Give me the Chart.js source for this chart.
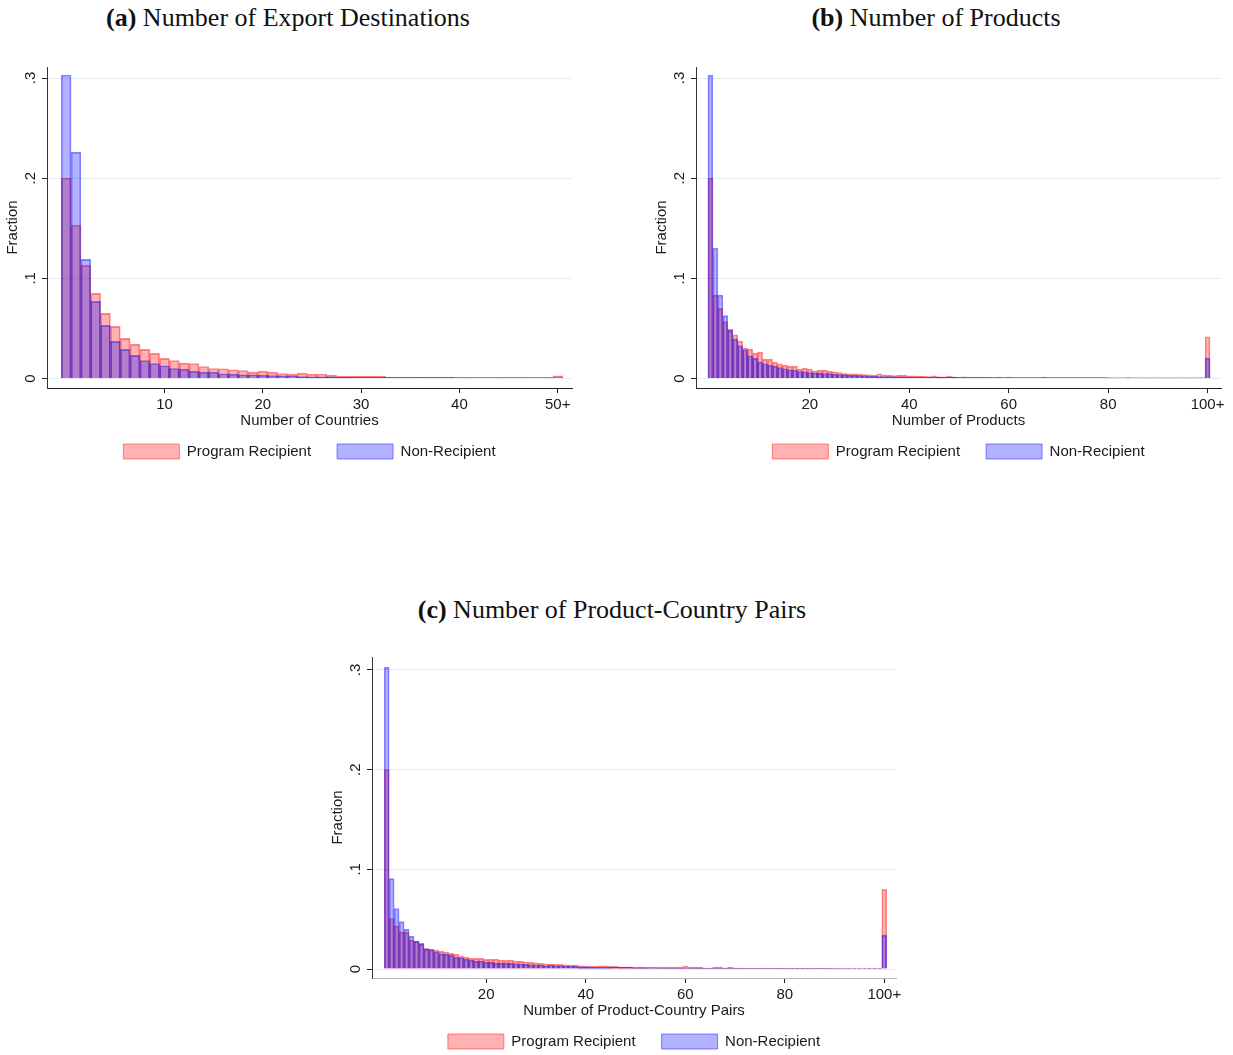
<!DOCTYPE html>
<html>
<head>
<meta charset="utf-8">
<script src="https://cdn.jsdelivr.net/npm/chart.js@4.4.1/dist/chart.umd.min.js"></script>
<style>
    html, body { margin: 0; padding: 0; background: #fff; overflow: hidden; }
    body { width: 1233px; height: 1055px; position: relative; }
    canvas { position: absolute; }
    .titulo {
        position: absolute;
        font-family: "Liberation Serif", "Times New Roman", serif;
        font-size: 26px;
        line-height: 30px;
        color: #111;
        white-space: nowrap;
        transform: translateX(-50%);
    }
</style>
</head>
<body>
<div class="titulo" style="left:288px; top:3px"><b>(a)</b> Number of Export Destinations</div>
<div class="titulo" style="left:936px; top:3px"><b>(b)</b> Number of Products</div>
<div class="titulo" style="left:612px; top:595px"><b>(c)</b> Number of Product-Country Pairs</div>

<canvas id="graficaDestinos" width="600" height="420" style="left:0px; top:50px"></canvas>
<canvas id="graficaProductos" width="584" height="420" style="left:649px; top:50px"></canvas>
<canvas id="graficaPares" width="600" height="420" style="left:325px; top:640px"></canvas>

<script>
// ---- data (fractions per bin) ----
const seriesNames = ['Program Recipient', 'Non-Recipient'];

const yTicks = [0, 0.1, 0.2, 0.3];
const yTickLabels = ['0', '.1', '.2', '.3'];

// (a) number of export destinations, bins 0..50 (last bin is 50+)
const destBins = [];
for (let i = 0; i <= 50; i++) destBins.push(i);
const destTicks = [10, 20, 30, 40, 50];
const destTickLabels = ['10', '20', '30', '40', '50+'];
const destRecipient = [
    0.200, 0.153, 0.113, 0.085, 0.065, 0.052, 0.040, 0.034, 0.029, 0.025,
    0.020, 0.018, 0.0153, 0.015, 0.012, 0.010, 0.0097, 0.0087, 0.008, 0.0063,
    0.0073, 0.0063, 0.005, 0.0043, 0.0053, 0.0043, 0.0045, 0.0033, 0.0023, 0.0023,
    0.0023, 0.0023, 0.0023, 0.0013, 0.0013, 0.0013, 0.0013, 0.0013, 0.0013, 0.0013,
    0.001, 0.001, 0.001, 0.001, 0.001, 0.001, 0.001, 0.001, 0.001, 0.001,
    0.0027
];
const destNonRecipient = [
    0.303, 0.226, 0.119, 0.077, 0.053, 0.037, 0.029, 0.023, 0.018, 0.015,
    0.0127, 0.010, 0.0093, 0.0073, 0.0063, 0.0063, 0.0047, 0.0043, 0.0037, 0.0037,
    0.0033, 0.003, 0.0027, 0.0027, 0.002, 0.0017, 0.0017, 0.0017, 0.0015, 0.0015,
    0.0013, 0.0013, 0.0012, 0.001, 0.001, 0.001, 0.001, 0.001, 0.001, 0.001,
    0.0008, 0.0008, 0.0008, 0.0008, 0.0008, 0.0008, 0.0008, 0.0008, 0.0008, 0.0008,
    0.001
];

// (b) number of products, bins 0..100 (last bin is 100+)
const prodBins = [];
for (let i = 0; i <= 100; i++) prodBins.push(i);
const prodTicks = [20, 40, 60, 80, 100];
const prodTickLabels = ['20', '40', '60', '80', '100+'];
const prodRecipient = [
    0.200, 0.0833, 0.070, 0.0567, 0.0493, 0.0437, 0.0373, 0.0303, 0.0293, 0.0253,
    0.0263, 0.0193, 0.0193, 0.0163, 0.0147, 0.0133, 0.0123, 0.0123, 0.0093, 0.0103,
    0.0093, 0.0077, 0.0083, 0.0083, 0.0073, 0.0067, 0.006, 0.005, 0.0047, 0.0047,
    0.0043, 0.004, 0.0037, 0.0033, 0.0047, 0.0037, 0.0033, 0.003, 0.0033, 0.0033,
    0.0027, 0.0027, 0.0023, 0.0023, 0.002, 0.0027, 0.0017, 0.0017, 0.0023, 0.0017,
    0.0013, 0.0017, 0.0013, 0.0013, 0.0013, 0.0013, 0.0013, 0.001, 0.0013, 0.001,
    0.0013, 0.001, 0.001, 0.001, 0.001, 0.001, 0.001, 0.0013, 0.001, 0.001,
    0.0008, 0.0008, 0.001, 0.0008, 0.0008, 0.0008, 0.0008, 0.0008, 0.0008, 0.0008,
    0.0008, 0.0007, 0.0007, 0.0007, 0.0008, 0.0007, 0.0007, 0.0007, 0.0007, 0.0007,
    0.0007, 0.0007, 0.0007, 0.0007, 0.0007, 0.0007, 0.0007, 0.0007, 0.0007, 0.0007,
    0.0417
];
const prodNonRecipient = [
    0.303, 0.130, 0.0833, 0.0627, 0.048, 0.0393, 0.0327, 0.0287, 0.0227, 0.020,
    0.0163, 0.0147, 0.0133, 0.0123, 0.011, 0.0097, 0.0087, 0.0083, 0.007, 0.0067,
    0.006, 0.0057, 0.0053, 0.005, 0.005, 0.0043, 0.004, 0.004, 0.0033, 0.0033,
    0.003, 0.003, 0.0023, 0.0023, 0.002, 0.002, 0.002, 0.0017, 0.0017, 0.0017,
    0.0015, 0.0015, 0.0013, 0.0013, 0.0013, 0.0013, 0.0013, 0.0012, 0.0012, 0.0012,
    0.001, 0.001, 0.001, 0.001, 0.001, 0.001, 0.001, 0.001, 0.001, 0.001,
    0.001, 0.001, 0.0009, 0.0009, 0.0009, 0.0009, 0.0009, 0.0009, 0.0008, 0.0008,
    0.0008, 0.0008, 0.0008, 0.0008, 0.0008, 0.0008, 0.0008, 0.0008, 0.0008, 0.0008,
    0.0007, 0.0007, 0.0007, 0.0007, 0.0007, 0.0007, 0.0007, 0.0007, 0.0007, 0.0007,
    0.0007, 0.0007, 0.0007, 0.0007, 0.0007, 0.0007, 0.0007, 0.0007, 0.0007, 0.0007,
    0.0203
];

// (c) number of product-country pairs, bins 0..100 (last bin is 100+)
const pairBins = [];
for (let i = 0; i <= 100; i++) pairBins.push(i);
const pairTicks = [20, 40, 60, 80, 100];
const pairTickLabels = ['20', '40', '60', '80', '100+'];
const pairRecipient = [
    0.200, 0.0507, 0.0433, 0.037, 0.0367, 0.029, 0.028, 0.0247, 0.0207, 0.0193,
    0.019, 0.0177, 0.017, 0.0157, 0.0147, 0.013, 0.012, 0.0107, 0.0107, 0.0107,
    0.0097, 0.0097, 0.010, 0.009, 0.0087, 0.009, 0.008, 0.0077, 0.0073, 0.0067,
    0.0063, 0.0057, 0.0053, 0.005, 0.0047, 0.0047, 0.0043, 0.004, 0.004, 0.0033,
    0.003, 0.0027, 0.0027, 0.0033, 0.0033, 0.0027, 0.0027, 0.0023, 0.0023, 0.0023,
    0.002, 0.0023, 0.002, 0.0017, 0.0017, 0.002, 0.002, 0.002, 0.002, 0.002,
    0.003, 0.002, 0.002, 0.002, 0.001, 0.001, 0.002, 0.002, 0.001, 0.002,
    0.0013, 0.001, 0.001, 0.001, 0.001, 0.001, 0.001, 0.001, 0.001, 0.001,
    0.0008, 0.0008, 0.0008, 0.0008, 0.0008, 0.0008, 0.0008, 0.0008, 0.0008, 0.0008,
    0.0008, 0.0008, 0.0008, 0.0007, 0.0007, 0.0007, 0.0007, 0.0007, 0.0007, 0.0007,
    0.080
];
const pairNonRecipient = [
    0.3027, 0.0907, 0.0607, 0.0477, 0.0397, 0.0327, 0.0277, 0.0257, 0.020, 0.020,
    0.0173, 0.0153, 0.0147, 0.014, 0.0117, 0.0113, 0.010, 0.0087, 0.008, 0.008,
    0.007, 0.0067, 0.006, 0.006, 0.006, 0.0057, 0.0053, 0.005, 0.0047, 0.0043,
    0.0043, 0.004, 0.0033, 0.004, 0.0033, 0.0033, 0.003, 0.003, 0.0027, 0.0023,
    0.0023, 0.002, 0.002, 0.002, 0.002, 0.002, 0.0017, 0.0017, 0.0017, 0.0017,
    0.0013, 0.0013, 0.0013, 0.0013, 0.0013, 0.001, 0.001, 0.001, 0.001, 0.001,
    0.001, 0.001, 0.001, 0.001, 0.001, 0.001, 0.001, 0.001, 0.001, 0.001,
    0.0008, 0.0008, 0.0008, 0.0008, 0.0008, 0.0008, 0.0008, 0.0008, 0.0008, 0.0008,
    0.0008, 0.0008, 0.0008, 0.0008, 0.0008, 0.0008, 0.0008, 0.0008, 0.0008, 0.0008,
    0.0007, 0.0007, 0.0007, 0.0007, 0.0007, 0.0007, 0.0007, 0.0007, 0.0007, 0.0007,
    0.034
];

// ---- styling ----
const fuente = "'Liberation Sans', Arial, Helvetica, sans-serif";
const colorTexto = '#1a1a1a';
Chart.defaults.font.family = fuente;
Chart.defaults.font.size = 15;
Chart.defaults.color = colorTexto;

const crearPanel = (canvasId, p) => {
    const canva = document.getElementById(canvasId).getContext('2d');
    const puntos = (valores) => p.bins.map((b, i) => ({x: b, y: valores[i]}));
    return new Chart(canva, {
        type: 'bar',
        data: {
            datasets: [{
                label: seriesNames[0],
                data: puntos(p.recipient),
                backgroundColor: 'rgba(255, 0, 0, 0.3)',
                borderColor: 'rgba(255, 0, 0, 0.45)',
                borderWidth: 1,
                grouped: false,
                barPercentage: 1,
                categoryPercentage: 1,
                order: 1
            }, {
                label: seriesNames[1],
                data: puntos(p.nonRecipient),
                backgroundColor: 'rgba(0, 0, 255, 0.3)',
                borderColor: 'rgba(0, 0, 255, 0.45)',
                borderWidth: 1,
                grouped: false,
                barPercentage: 1,
                categoryPercentage: 1,
                order: 0   // drawn on top of the recipient bars
            }]
        },
        options: {
            responsive: false,
            animation: false,
            layout: { padding: p.padding },
            plugins: {
                tooltip: { enabled: false },
                legend: {
                    position: 'bottom',
                    fullSize: false,
                    labels: {
                        boxWidth: 56,
                        boxHeight: 15,
                        padding: 26,
                        color: colorTexto,
                        font: { size: 15 },
                        sort: (a, b) => a.datasetIndex - b.datasetIndex
                    }
                }
            },
            scales: {
                x: {
                    type: 'linear',
                    min: p.xMin,
                    max: p.xMax,
                    offset: false,
                    afterBuildTicks: (s) => { s.ticks = p.xTicks.map(v => ({value: v})); },
                    afterFit: (s) => { s.height = 30; },
                    ticks: {
                        autoSkip: false,
                        maxRotation: 0,
                        padding: 3,
                        color: colorTexto,
                        callback: (v, i) => p.xTickLabels[i]
                    },
                    grid: { offset: false, drawOnChartArea: false, tickLength: 5, tickColor: '#222' },
                    border: { color: p.xAxisColor, width: 1 },
                    title: {
                        display: true,
                        text: p.xTitle,
                        color: colorTexto,
                        padding: { top: 0, bottom: -12 }
                    }
                },
                y: {
                    min: p.yMin,
                    max: p.yMax,
                    afterBuildTicks: (s) => { s.ticks = yTicks.map(v => ({value: v})); },
                    afterFit: (s) => { s.width = 47; },
                    ticks: {
                        minRotation: 90,
                        maxRotation: 90,
                        crossAlign: 'center',
                        padding: 5,
                        color: colorTexto,
                        callback: (v, i) => yTickLabels[i]
                    },
                    grid: { color: '#e4eef0', tickColor: '#222', tickLength: 5 },
                    border: { color: '#333', width: 1 },
                    title: {
                        display: true,
                        text: 'Fraction',
                        color: colorTexto,
                        padding: { top: 4, bottom: 0 }
                    }
                }
            }
        }
    });
};

crearPanel('graficaDestinos', {
    bins: destBins, recipient: destRecipient, nonRecipient: destNonRecipient,
    xTicks: destTicks, xTickLabels: destTickLabels, xTitle: 'Number of Countries',
    xMin: -1.95, xMax: 51.45, yMin: -0.0095, yMax: 0.311,
    xAxisColor: '#222',
    padding: { top: 17, right: 28, bottom: 1, left: 0 }
});

crearPanel('graficaProductos', {
    bins: prodBins, recipient: prodRecipient, nonRecipient: prodNonRecipient,
    xTicks: prodTicks, xTickLabels: prodTickLabels, xTitle: 'Number of Products',
    xMin: -2.9, xMax: 102.7, yMin: -0.0095, yMax: 0.311,
    xAxisColor: '#222',
    padding: { top: 17, right: 12, bottom: 1, left: 0 }
});

crearPanel('graficaPares', {
    bins: pairBins, recipient: pairRecipient, nonRecipient: pairNonRecipient,
    xTicks: pairTicks, xTickLabels: pairTickLabels, xTitle: 'Number of Product-Country Pairs',
    xMin: -2.95, xMax: 102.35, yMin: -0.009, yMax: 0.313,
    xAxisColor: '#b8b8b8',
    padding: { top: 17, right: 29, bottom: 1, left: 0 }
});
</script>
</body>
</html>
